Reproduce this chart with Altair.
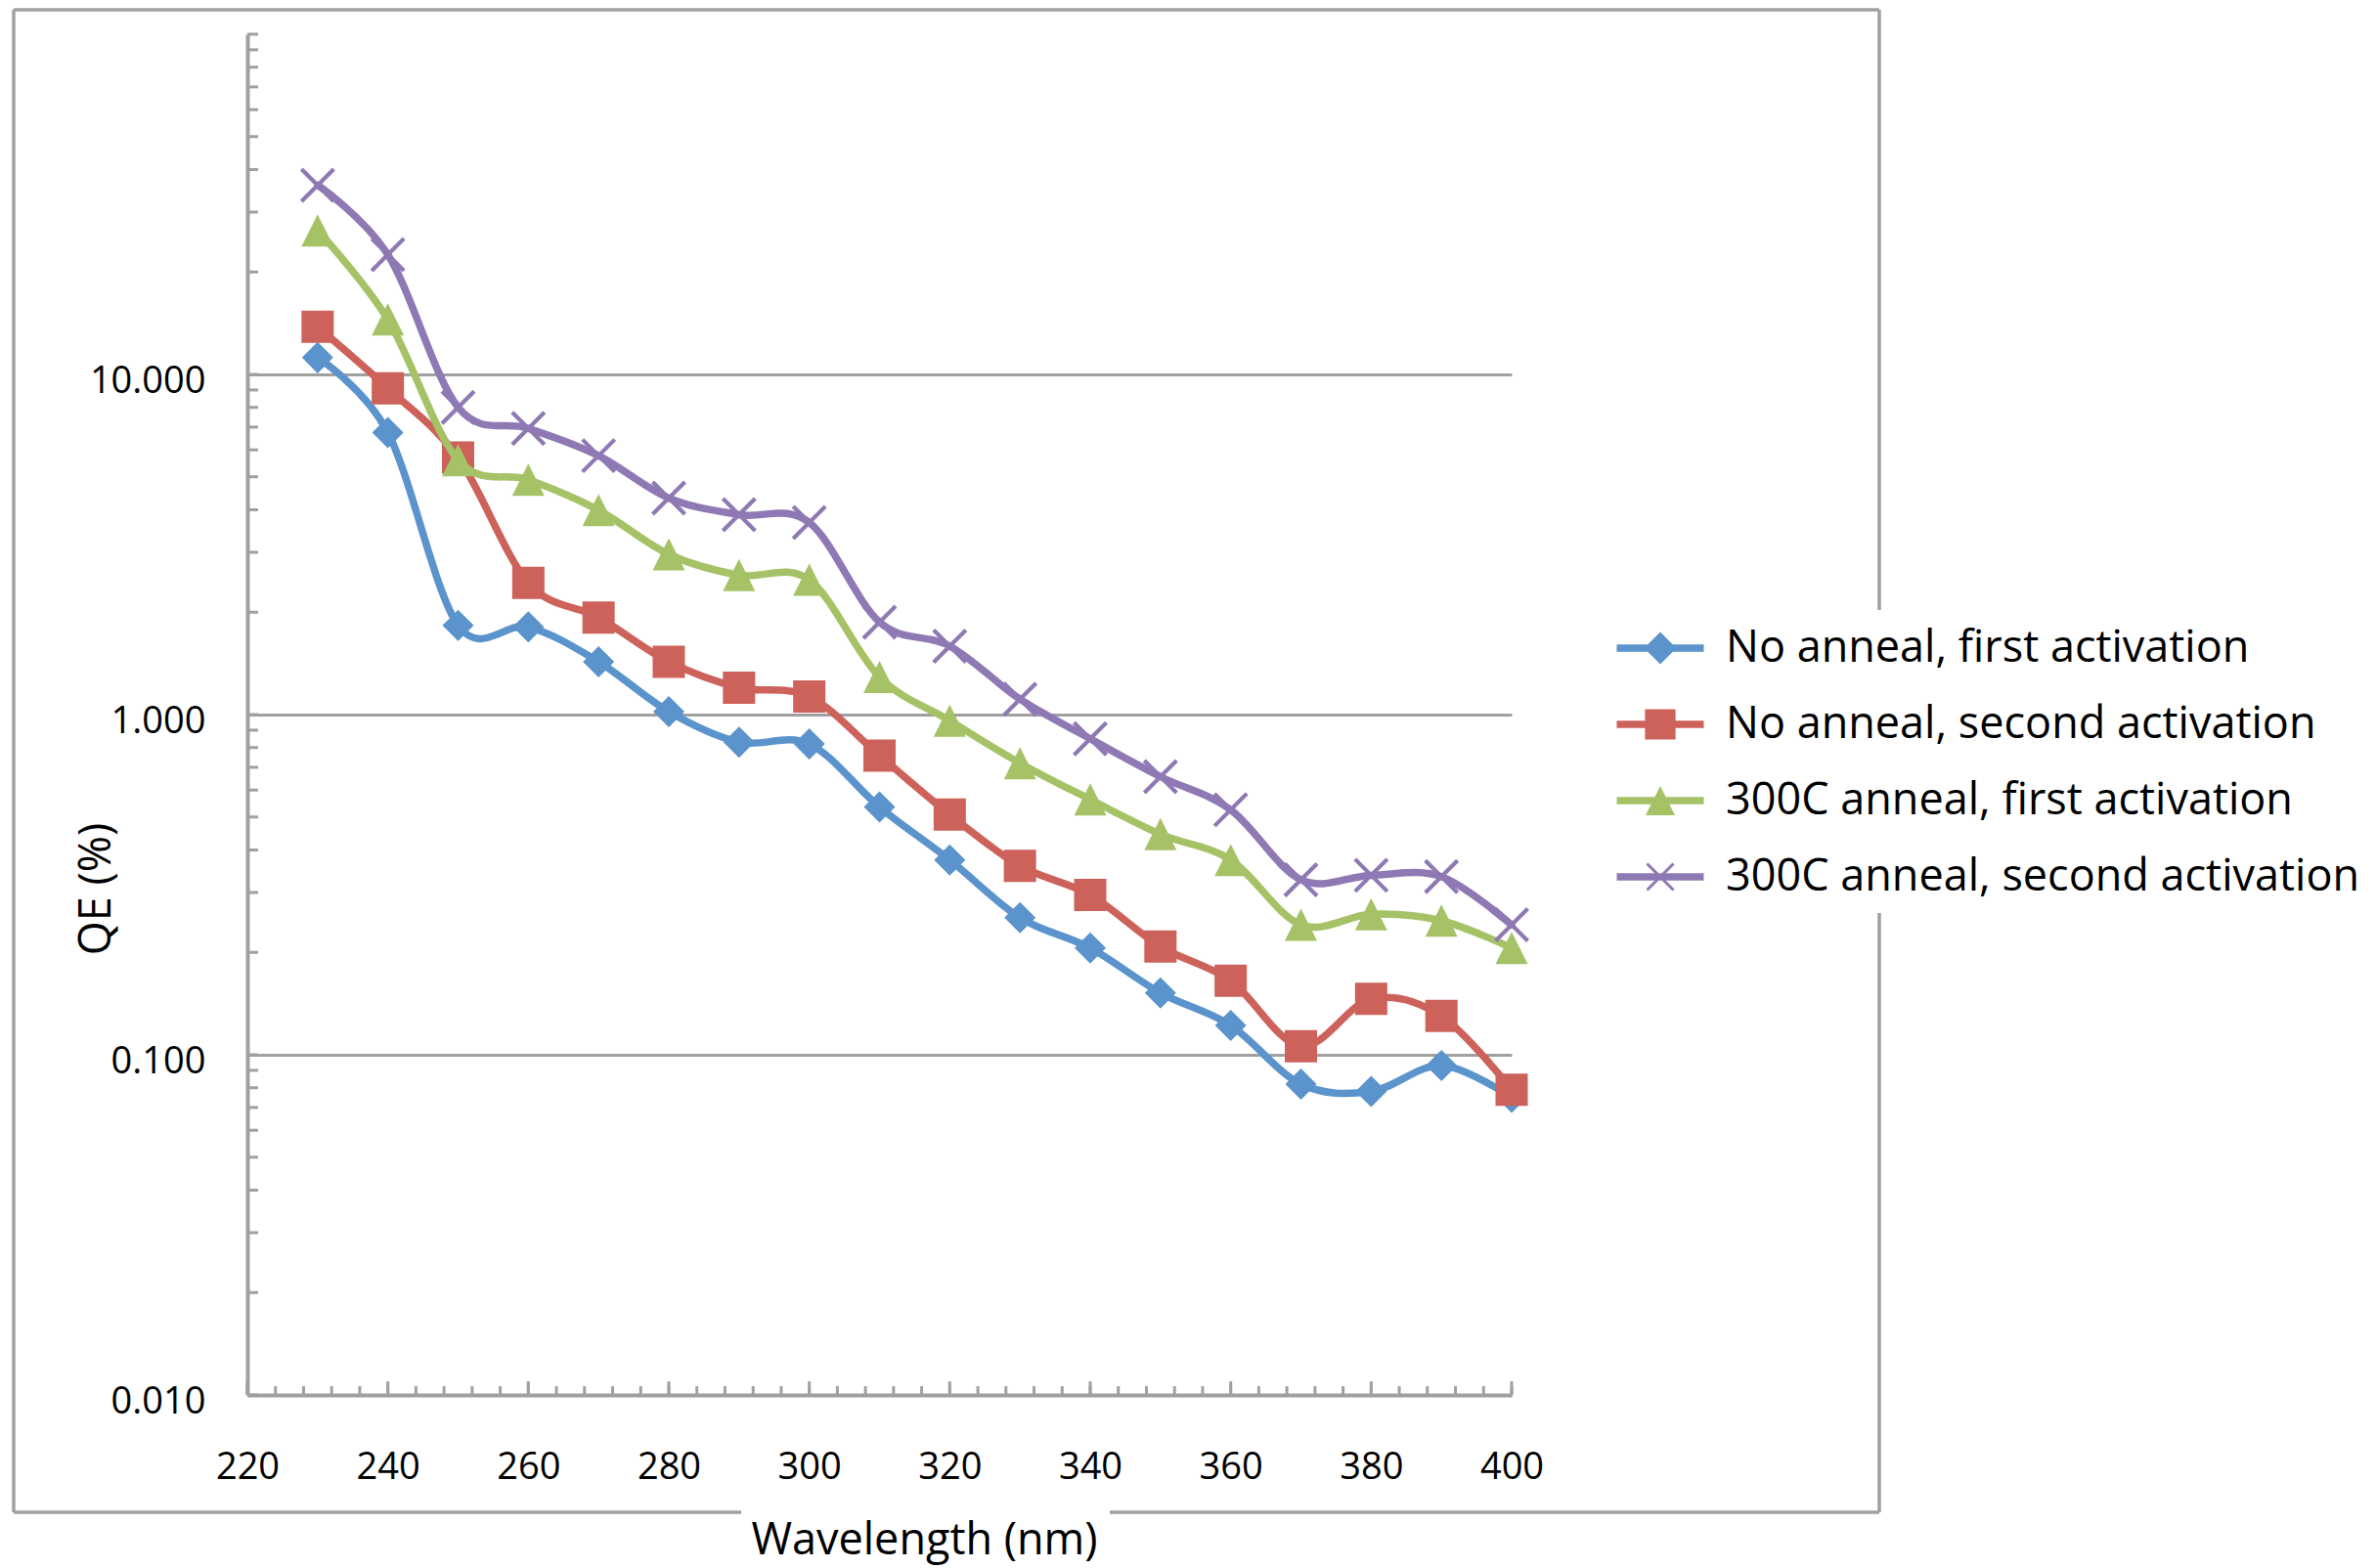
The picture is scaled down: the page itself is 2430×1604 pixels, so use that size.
import altair as alt
import pandas as pd

# ---------------- data ----------------
wavelength = [230, 240, 250, 260, 270, 280, 290, 300, 310, 320,
              330, 340, 350, 360, 370, 380, 390, 400]

series_names = [
    "No anneal, first activation",
    "No anneal, second activation",
    "300C anneal, first activation",
    "300C anneal, second activation",
]

qe_no_anneal_first = [11.2, 6.75, 1.83, 1.81, 1.43, 1.02, 0.83, 0.82, 0.535, 0.374,
                      0.253, 0.206, 0.152, 0.122, 0.082, 0.078, 0.093, 0.075]
qe_no_anneal_second = [13.8, 9.1, 5.7, 2.44, 1.93, 1.43, 1.20, 1.13, 0.758, 0.508,
                       0.359, 0.295, 0.208, 0.165, 0.106, 0.146, 0.130, 0.079]
qe_300c_first = [26.5, 14.5, 5.6, 4.9, 3.99, 2.96, 2.57, 2.49, 1.29, 0.96,
                 0.72, 0.563, 0.445, 0.374, 0.241, 0.259, 0.248, 0.206]
qe_300c_second = [36.0, 22.5, 8.0, 6.94, 5.77, 4.33, 3.87, 3.67, 1.87, 1.59,
                  1.11, 0.849, 0.657, 0.525, 0.327, 0.337, 0.334, 0.241]

series_values = [qe_no_anneal_first, qe_no_anneal_second, qe_300c_first, qe_300c_second]
colors = ["#5B93CC", "#CD625B", "#A5C266", "#8F79B4"]

x_label_values = [220, 240, 260, 280, 300, 320, 340, 360, 380, 400]
x_minor_ticks = list(range(220, 401, 4))
y_label_values = [0.01, 0.1, 1, 10]
y_minor_ticks = [k * 10.0 ** e for e in range(-2, 2) for k in range(1, 10)] + [100]

rows = []
for name, vals in zip(series_names, series_values):
    for w, v in zip(wavelength, vals):
        rows.append({"series": name, "wavelength": w, "qe": v})
df = pd.DataFrame(rows)

# ---------------- styling ----------------
W, H = 1293, 1392
GRAY = "#A0A0A0"
FONT = "Open Sans"


def poly(points):
    return "M" + "L".join(f"{x:.3f},{y:.3f}" for x, y in points) + "Z"


def marker_path(kind, r, d=0.0):
    if kind == "diamond":
        return poly([(0, -r), (r, 0), (0, r), (-r, 0)])
    if kind == "square":
        return poly([(-r, -r), (r, -r), (r, r), (-r, r)])
    if kind == "triangle":
        return poly([(0, -r), (r, r), (-r, r)])
    a1 = [(-r + d, -r - d), (r + d, r - d), (r - d, r + d), (-r - d, -r + d)]
    a2 = [(-r + d, r + d), (-r - d, r - d), (r - d, -r - d), (r + d, -r + d)]
    return poly(a1) + poly(a2)


# data markers: size 1089 -> unit = 16.5 px
POINT_SIZE = 1089
point_paths = [
    marker_path("diamond", 0.97),
    marker_path("square", 1.0),
    marker_path("triangle", 1.0),
    marker_path("x", 1.0, 0.09),
]

# legend symbols: size 3600 -> unit = 30 px ; line + marker in one path
LEG_SIZE = 3600
leg_line = poly([(-1.483, -0.125), (1.483, -0.125), (1.483, 0.125), (-1.483, 0.125)])
legend_paths = [
    leg_line + marker_path("diamond", 0.55),
    leg_line + marker_path("square", 0.52),
    leg_line + marker_path("triangle", 0.5),
    leg_line + marker_path("x", 0.45, 0.036),
]

x_axis = alt.Axis(
    values=x_label_values, ticks=False, tickSize=0, grid=False,
    domainColor=GRAY, domainWidth=4,
    labelFont=FONT, labelFontSize=38, labelColor="black",
    labelPadding=85, labelBaseline="alphabetic",
    labelFlush=False, labelOverlap=False,
    title="Wavelength (nm)", titleFont=FONT, titleFontSize=45,
    titleFontWeight="normal", titleColor="black",
    titleX=692, titleY=162, titleBaseline="alphabetic", titleAlign="center",
)
y_axis = alt.Axis(
    values=y_label_values, format=".3f", ticks=False, tickSize=0,
    grid=True, gridColor=GRAY, gridWidth=3,
    domainColor=GRAY, domainWidth=4,
    labelFont=FONT, labelFontSize=38, labelColor="black",
    labelPadding=43, labelBaseline="alphabetic", labelOffset=18,
    labelFlush=False, labelOverlap=False,
    title="QE (%)", titleFont=FONT, titleFontSize=45,
    titleFontWeight="normal", titleColor="black",
    titleX=-141, titleY=874, titleAngle=270,
    titleBaseline="alphabetic", titleAlign="center",
)
x_scale = alt.Scale(domain=[220, 400], nice=False, zero=False)
y_scale = alt.Scale(type="log", domain=[0.01, 100], nice=False)

X = alt.X("wavelength:Q", scale=x_scale, axis=x_axis)
Y = alt.Y("qe:Q", scale=y_scale, axis=y_axis)

layers = []

# minor/major ticks pointing inward
xt = pd.DataFrame({"wavelength": x_minor_ticks})
layers.append(alt.Chart(xt).mark_rule(color=GRAY, strokeWidth=3).encode(
    x=X, y=alt.value(H), y2=alt.value(H - 9)))
xm = pd.DataFrame({"wavelength": x_label_values})
layers.append(alt.Chart(xm).mark_rule(color=GRAY, strokeWidth=3).encode(
    x=X, y=alt.value(H), y2=alt.value(H - 14)))
yt = pd.DataFrame({"qe": y_minor_ticks})
layers.append(alt.Chart(yt).mark_rule(color=GRAY, strokeWidth=3).encode(
    y=Y, x=alt.value(0), x2=alt.value(11)))

# series: line then markers, series by series
for name, col, path in zip(series_names, colors, point_paths):
    base = alt.Chart(df).transform_filter(alt.datum.series == name)
    layers.append(base.mark_line(interpolate="cardinal", strokeWidth=7.5, color=col,
                                 strokeCap="round", strokeJoin="round").encode(x=X, y=Y))
    layers.append(base.mark_point(shape=path, size=POINT_SIZE, filled=True, opacity=1,
                                  color=col, strokeWidth=0).encode(x=X, y=Y))

# legend carrier (no visible data)
legend = alt.Legend(
    orient="none", legendX=1415, legendY=598, title=None,
    labelFont=FONT, labelFontSize=45, labelColor="black", labelLimit=2000,
    labelOffset=37, symbolSize=LEG_SIZE, symbolStrokeWidth=0, symbolOpacity=1,
    rowPadding=25, direction="vertical", padding=0,
)
layers.append(
    alt.Chart(df).transform_filter("false").mark_point(filled=True, opacity=1, strokeWidth=0)
    .encode(
        x=X, y=Y,
        color=alt.Color("series:N", scale=alt.Scale(domain=series_names, range=colors), legend=legend),
        shape=alt.Shape("series:N", scale=alt.Scale(domain=series_names, range=legend_paths), legend=legend),
    )
)

# outer chart-area border (with the gaps of the original)
one = pd.DataFrame({"k": [0]})


def seg(x1, y1, x2, y2):
    return alt.Chart(one).mark_rule(color=GRAY, strokeWidth=3.5).encode(
        x=alt.value(x1), y=alt.value(y1), x2=alt.value(x2), y2=alt.value(y2))


L, T, R, B = -239, -25, 1669, 1512
layers += [
    seg(L, T, L, B),
    seg(L, T, R, T),
    seg(R, T, R, 589),
    seg(R, 899, R, B),
    seg(L, B, 505, B),
    seg(882, B, R, B),
]

chart = alt.layer(*layers).properties(
    width=W, height=H,
    padding={"left": 4, "top": 0, "right": 0, "bottom": 20},
    background="white",
).configure_view(stroke=None, strokeWidth=0)

chart.save("out.html", embed_options={"renderer": "svg", "actions": False})
